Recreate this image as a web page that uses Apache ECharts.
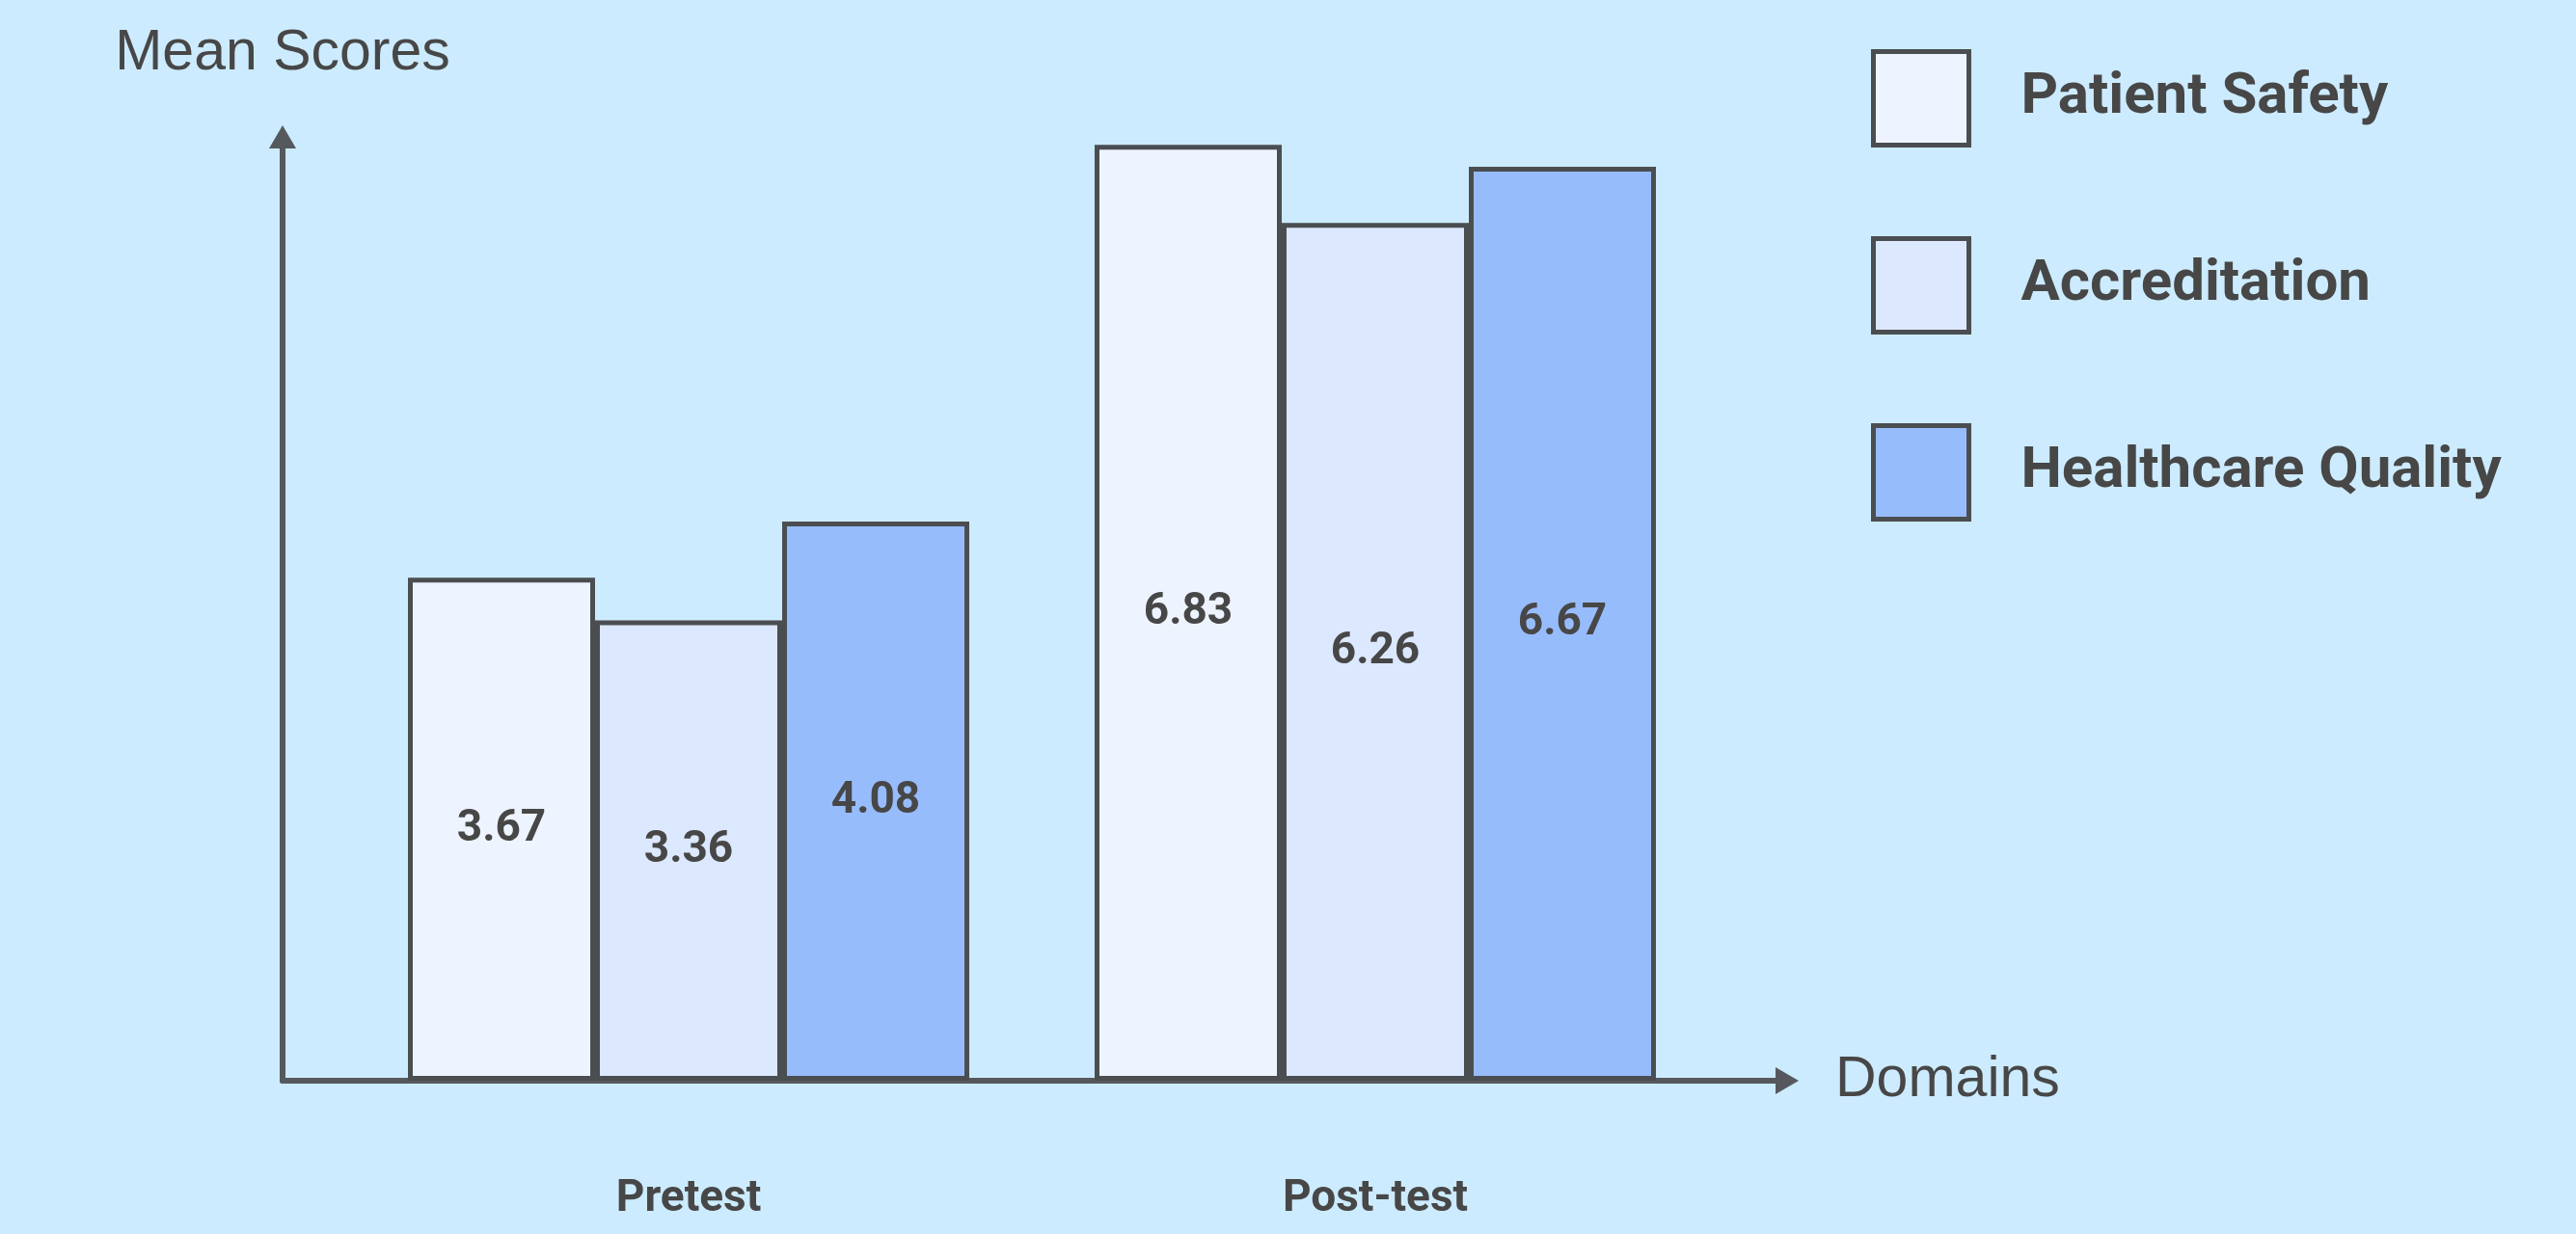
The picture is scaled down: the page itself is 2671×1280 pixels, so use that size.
<!DOCTYPE html>
<html><head><meta charset="utf-8">
<script src="https://cdn.jsdelivr.net/npm/echarts@6/dist/echarts.min.js"></script>
<style>html,body{margin:0;padding:0;background:#CCEBFE;}#c{width:2671px;height:1280px;}</style>
</head><body><div id="c"></div>
<script>
const categories = ['Pretest', 'Post-test'];
const seriesNames = ['Patient Safety', 'Accreditation', 'Healthcare Quality'];
const patientSafety = [3.67, 6.83];
const accreditation = [3.36, 6.26];
const healthcareQuality = [4.08, 6.67];
const seriesColors = ['#EEF4FF', '#DCE8FD', '#97BCFC'];
const yAxisName = 'Mean Scores';
const xAxisName = 'Domains';

const textColor = '#474747';
const lineColor = '#55595D';
const borderColor = '#4B4E51';
const valuesList = [patientSafety, accreditation, healthcareQuality];

const chart = echarts.init(document.getElementById('c'), null, {renderer: 'canvas'});
const frameAxisLine = {
  show: true,
  symbol: ['none', 'triangle'],
  symbolSize: [28, 24],
  lineStyle: {color: lineColor, width: 6}
};
chart.setOption({
  backgroundColor: '#CCEBFE',
  animation: false,
  grid: [
    {left: 293, right: 818, top: 142, bottom: 159},
    {left: 358, right: 889, top: 126, bottom: 159}
  ],
  xAxis: [
    {
      gridIndex: 0, type: 'value', min: 0, max: 1,
      axisLine: frameAxisLine, axisTick: {show: false}, axisLabel: {show: false}, splitLine: {show: false},
      name: xAxisName, nameLocation: 'end', nameGap: 50,
      nameTextStyle: {fontFamily: 'Liberation Sans', fontSize: 59, color: textColor}
    },
    {
      gridIndex: 1, type: 'category', data: categories,
      axisLine: {show: false}, axisTick: {show: false}, splitLine: {show: false},
      axisLabel: {fontFamily: 'Roboto', fontWeight: 'bold', fontSize: 46, lineHeight: 46, color: textColor, margin: 100}
    }
  ],
  yAxis: [
    {
      gridIndex: 0, type: 'value', min: 0, max: 1,
      axisLine: frameAxisLine, axisTick: {show: false}, axisLabel: {show: false}, splitLine: {show: false},
      name: yAxisName, nameLocation: 'end', nameGap: 57,
      nameTextStyle: {fontFamily: 'Liberation Sans', fontSize: 59, color: textColor, align: 'center'}
    },
    {gridIndex: 1, type: 'value', min: 0, max: 7, show: false}
  ],
  legend: {
    orient: 'vertical', left: 1935, top: 46,
    itemWidth: 99, itemHeight: 97, itemGap: 92, icon: 'rect',
    itemStyle: {borderWidth: 5, borderColor: borderColor},
    textStyle: {fontFamily: 'Roboto', fontWeight: 'bold', fontSize: 60, color: textColor, padding: [0, 0, 0, 49]},
    data: seriesNames
  },
  series: seriesNames.map((name, i) => ({
    name: name,
    type: 'bar',
    xAxisIndex: 1, yAxisIndex: 1,
    data: valuesList[i],
    barWidth: 194,
    barGap: '0%',
    itemStyle: {color: seriesColors[i], borderColor: borderColor, borderWidth: 5},
    label: {show: true, position: 'inside', fontFamily: 'Roboto', fontWeight: 'bold', fontSize: 46, color: textColor,
      formatter: p => p.value.toFixed(2)}
  }))
});
</script></body></html>
